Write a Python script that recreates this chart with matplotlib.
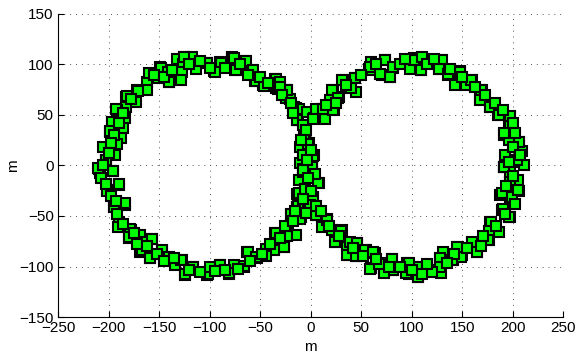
"""
Figure-eight track of position estimates (two circles of square markers)
"""

import matplotlib.pyplot as plt
import numpy as np

# points, left loop then crossing then right loop
x_pts = [
    -132.5, -125, -117, -126.6, -127.6, -128, -113.7, -102.8, -96, -89.6,
    -78, -74.8, -65, -58, -55, -47, -35.5, -34.6, -24.7, -24,
    -17, -14, -10.5, -11, -149, -140.5, -150.7, -162, -162, -172,
    -173, -182.6, -183, -192, -184, -196.7, -186, -199, -188, -205,
    -192, -194, -202.6, -209, -196, -125.4, -103, -89, -95, -78,
    -148, -141, -151, -140, -171, -182, -193, -197, -199, -203,
    -208, -201.6, -190, -195, -183.5, -190, -178, -180, -168.8, -165.5,
    -157, -159, -168.8, -147, -141, -127.5, -134, -124, -116, -102.6,
    -99, -89.4, -81, -76, -66.3, -62.9, -53, -44.7, -36.5, -35,
    -26.7, -22.8, -20, -13.5, -13.5, -12, -210, -196, -190, -201.6,
    -195, -183.5, -190.7, -178.5, -157, -180, -167, -158.5, -147, -140,
    -128, -124, -116, -101.6, -100, -89.5, -80.5,
    -75.7, -74, -64, -57.6, -54.3, -46, -34.5, -32.8, -23, -21,
    -14.7, -13, -11.5, -3.3, 3.3, 5, 12, 14.5, 23, 19.6,
    28, 21.6, 31.5, 39.8, 44, 44.6, 58, 59.6, -5.4, -2.1,
    -7.4, 3.3, 1, -7.6, 1, 8.3, -5.6, -11.6, 2.3, -13.2,
    -1, -19.8, -9.9, -14.9, -23, -34.5, -26.4, -36.8, -44.4, -62.5,
    -54.3, -65.8, -80.7, 6.6, 16.5, 11.5, 20.8, 31.4, 24.8, 36.3,
    46.2, 38, 45.5, 54.6, 59.6,
    -8, 7.6, 2.6, -5.6, -13, -0.7, -10.6, 5.3, 15.8, 30,
    24, 39, 45.5, 53.8, 35.6, 44.9, 58.7, 63.7, 68.6, 72,
    80, 81.8, 95, 96.7, 105, 105.6, 119.8, 128.7, 127.4, 131.3,
    140.6, 146, 149.5, 159.4, 164.4, 176, 177.5, 185.8, 189, 196.7,
    187.5, 197.4, 205.6, 197, 204.6, 190.8, 204, 210.6, 197.4, 197,
    189, 199, 204.6, 190, 195.7, 178, 176.7, 175.7, 159.4, 164,
    145, 148.3, 139.6, 127.4, 128, 120, 106, 105, 94.7, 97,
    80.3, 81.3, 72, 68, 62,
    73.6, 81.2, 78.5, 70.3, 60.4, 101.7, 110, 109, 97.7, 119.8,
    129, 126.4, 135.3, 144, 147.9, 153.8, 159.4, 169.3, 167.7, 177.6,
    184.8, 197.4, 195.7, 190.8, 205.6, 195.7, 192.4, 209, 203.3, 190.8,
    58.7, 73.6, 81.8, 78, 68.6, 43.9, 30.7, 39.6, 20.8, 19,
    27.4, 22.4, 11.9, 2.6, -13.9, -6.6, -2.3, -7.9, 2.6, 1,
    -7.9, -23.8, -17.2, -30, 101.7, 110, 109, 119.8, 129.7, 126.4,
    135.3, 147.8, 142.9, 158.4, 168.3, 167.7, 177.6, 185.8, 197.4, 196.7,
    191.4, 205.6, 204, 190.8,
    -160, -155, -145, -137, -120, -110, -100, -85, -70, -62,
    -50, -42, -30, -28, -20, -18, -178, -186, -190, -195,
    -198, -200, -205, -207, -203, -198, -193, -192, -186, -175,
    -172, -162, -152, -145, -135, -120, -110, -95, -85, -72,
    -60, -48, -40, -30, -25, -18, -16, -8, -5, -10,
    0, -4, 4, -3, 0, -8, 5, 10, -5, 15,
    25, 35, 50, 65, 88, 93, 115, 122, 138, 150,
    162, 172, 182, 190, 200, 202, 200, 207, 196, 200,
    193, 202, 192, 183, 170, 168, 155, 142, 135, 115,
    110, 100, 88, 77, 65, 52, 42, 28, 18,
]
y_pts = [
    105.3, 107.6, 107.6, 100, 92.7, 85, 95.4, 101, 93.4, 102,
    107, 95, 103.6, 95, 83.5, 79.5, 85.5, 77, 75, 67,
    58, 45.5, 18.5, 2, 97.7, 82.8, 87.8, 83, 74.6, 74.6,
    63, 68, 58, 55, 47.5, 43, 37, 33, 27.6, 18.5,
    21, 10, 5, -3, -5, 107.6, 101, 101, 93, 106,
    97, 93, 87, 83, 74, 69, 56, 43, 34, 5,
    -7.9, -24.4, -19.5, -40.9, -39, -55.6, -64, -72, -69, -75.6,
    -73, -92, -85.5, -84.5, -91, -94, -98.7, -108.6, -100.3, -108.6,
    -101, -98.7, -107, -98.7, -100, -85.5, -92, -83, -83, -66.7,
    -80.5, -67.3, -49, -41, -28, -14.5, -2, -5.6, -18.8, -24.8,
    -41, -37.6, -60.6, -63, -72.6, -71, -84, -91.7, -83.5, -90.8,
    -94, -107, -100, -107, -100, -98.3, -106,
    106, 94.4, 103, 94.4, 83.5, 79, 86, 76, 75, 66,
    57, 45, 56, 53, 46.9, 56, 56, 46.5, 55, 64.7,
    68, 74.6, 85, 78, 87, 73, 96, 102.6, 30, 22,
    10.6, 10.6, 0, -3.8, -1.2, -17, -22.8, -27.6, -31, -40.8,
    -40.2, -48, -51.4, -68.8, -70, -66.5, -80.4, -83.7, -89.6, -85.3,
    -91, -99.5, -106.8, -49, -53.3, -60.6, -63.8, -63.8, -75.4, -80.3,
    -76.4, -88.4, -89.4, -83.7, -101.8,
    -6.3, -17, -31, -22.8, -40.3, -39.3, -52.5, -49.2, -53.5, -64.7,
    -75.6, -75.6, -76.6, -83.2, -88.8, -89.8, -102, -87, -97, -105,
    -93, -103.6, -97, -107, -100, -110, -103.6, -106, -92, -85.5,
    -93.7, -81, -88.8, -76.6, -85.5, -74, -55.7, -65.6, -44.2, -50.8,
    -29.4, -31, -25, -17.8, -14.5, -1.2, 3.8, 0.5, -6, -16,
    -27.6, -31, -24.3, -43.4, -51.4, -55.6, -64.5, -73.8, -75.4, -85.3,
    -81, -90.3, -93.6, -92, -100.2, -105, -110, -100.8, -106.8, -96.8,
    -92.8, -103.4, -106.8, -97.5, -85.3,
    104.3, 96.7, 87.8, 89.4, 94.4, 106, 106.6, 94.4, 95.4, 101,
    104.3, 96, 90, 80.2, 93.4, 79.5, 84.5, 74.6, 66.3, 58,
    49.8, 48, 39.3, 30.4, 23.4, 25, 10.6, 14.5, 5.6, -1,
    97.7, 104.3, 97.7, 87.8, 90.4, 87, 85, 77, 75, 65,
    67, 55, 55.5, 46.5, 45.5, 30, 21, 10, 9.2, -1.3,
    -4, 75, 58, 82.8, 104.3, 107, 94.4, 101, 104.3, 96,
    90.4, 92.7, 79.5, 84.5, 75, 65.3, 58, 50, 49, 39,
    31.7, 23.4, 5.3, -1.3,
    92, 90, 88, 95, 100, 103, 97, 97, 100, 90,
    88, 82, 78, 70, 62, 52, 66, 52, 42, 30,
    22, 12, 0, -12, -18, -30, -35, -48, -58, -67,
    -78, -80, -88, -95, -92, -103, -105, -104, -103, -102,
    -95, -88, -78, -72, -60, -55, -45, 40, 35, 25,
    15, 5, -8, -12, -25, -33, -40, -45, -47, 60,
    62, 80, 90, 100, 100, 105, 100, 105, 96, 88,
    78, 70, 62, 55, 42, 32, 18, 10, 3, -10,
    -20, -38, -48, -60, -70, -80, -82, -88, -97, -98,
    -107, -103, -100, -100, -93, -90, -82, -70, -60,
]

x_ticks = [-250, -200, -150, -100, -50, 0, 50, 100, 150, 200, 250]
y_ticks = [-150, -100, -50, 0, 50, 100, 150]

plt.rcParams["font.family"] = ["Liberation Sans", "DejaVu Sans"]

fig = plt.figure(figsize=(5.77, 3.54), dpi=100)
ax = fig.add_axes([0.1005, 0.1045, 0.8761, 0.856])

ax.plot(np.array(x_pts), np.array(y_pts), "s", color="#00ff00",
        markeredgecolor="black", markersize=6.8, markeredgewidth=1.5,
        linestyle="none")

ax.set_xlim(-250, 250)
ax.set_ylim(-150, 150)
ax.set_xticks(x_ticks)
ax.set_yticks(y_ticks)
ax.tick_params(direction="in", length=4, width=0.8, labelsize=11, pad=3)
ax.grid(True, color="#555555", linestyle=(0, (1, 5)), linewidth=0.7)
ax.set_axisbelow(True)

for side in ("top", "right"):
    ax.spines[side].set_visible(False)
for side in ("left", "bottom"):
    ax.spines[side].set_linewidth(0.8)

ax.set_xlabel("m", fontsize=11)
ax.set_ylabel("m", fontsize=11)
ax.xaxis.set_label_coords(0.5, -0.075)
ax.yaxis.set_label_coords(-0.075, 0.5)

plt.savefig("out.png", dpi=100)
